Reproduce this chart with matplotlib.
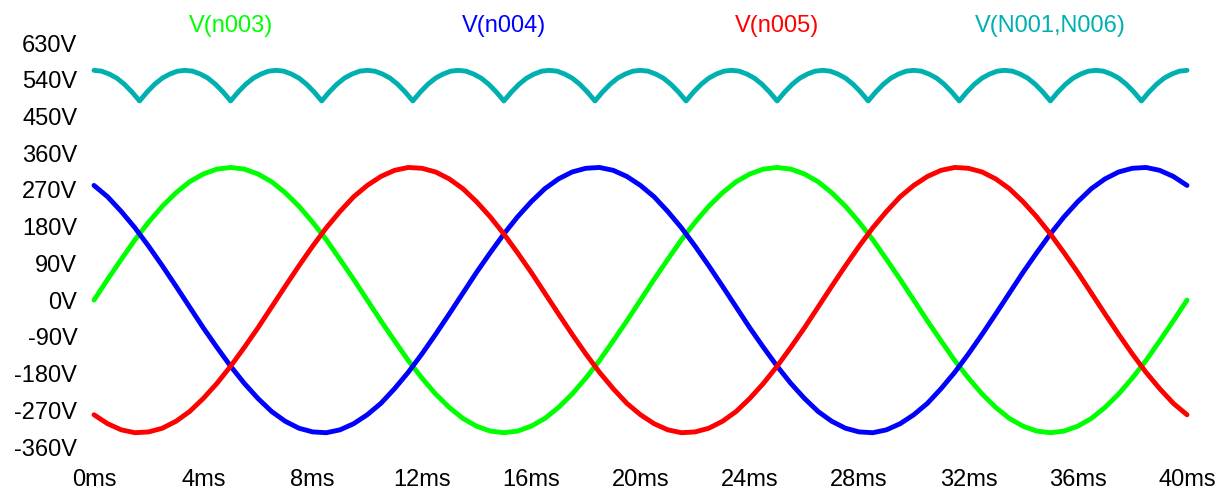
import numpy as np
import matplotlib
matplotlib.use("Agg")
import matplotlib.pyplot as plt

# ---- data (time in ms, voltage in V) ----
t_phase = np.linspace(0, 40, 81)  # 0.5 ms sampling

v_n003 = [0, 51, 100, 148, 191, 230, 263, 290, 309, 321, 325, 321, 309, 290, 263, 230, 191, 148, 100, 51,
          0, -51, -100, -148, -191, -230, -263, -290, -309, -321, -325, -321, -309, -290, -263, -230, -191, -148, -100, -51,
          0, 51, 100, 148, 191, 230, 263, 290, 309, 321, 325, 321, 309, 290, 263, 230, 191, 148, 100, 51,
          0, -51, -100, -148, -191, -230, -263, -290, -309, -321, -325, -321, -309, -290, -263, -230, -191, -148, -100, -51,
          0]

v_n004 = [281, 253, 217, 177, 132, 84, 34, -17, -68, -116, -162, -204, -241, -273, -297, -314, -323, -325, -318, -303,
          -281, -253, -217, -177, -132, -84, -34, 17, 68, 116, 162, 204, 241, 273, 297, 314, 323, 325, 318, 303,
          281, 253, 217, 177, 132, 84, 34, -17, -68, -116, -162, -204, -241, -273, -297, -314, -323, -325, -318, -303,
          -281, -253, -217, -177, -132, -84, -34, 17, 68, 116, 162, 204, 241, 273, 297, 314, 323, 325, 318, 303,
          281]

v_n005 = [-281, -303, -318, -325, -323, -314, -297, -273, -241, -204, -162, -116, -68, -17, 34, 84, 132, 177, 217, 253,
          281, 303, 318, 325, 323, 314, 297, 273, 241, 204, 162, 116, 68, 17, -34, -84, -132, -177, -217, -253,
          -281, -303, -318, -325, -323, -314, -297, -273, -241, -204, -162, -116, -68, -17, 34, 84, 132, 177, 217, 253,
          281, 303, 318, 325, 323, 314, 297, 273, 241, 204, 162, 116, 68, 17, -34, -84, -132, -177, -217, -253,
          -281]

t_rect = np.linspace(0, 40, 145)  # 5/18 ms sampling
v_n001_n006 = [563, 561, 554, 544, 529, 510, 488, 510, 529, 544, 554, 561,
               563, 561, 554, 544, 529, 510, 488, 510, 529, 544, 554, 561,
               563, 561, 554, 544, 529, 510, 488, 510, 529, 544, 554, 561,
               563, 561, 554, 544, 529, 510, 488, 510, 529, 544, 554, 561,
               563, 561, 554, 544, 529, 510, 488, 510, 529, 544, 554, 561,
               563, 561, 554, 544, 529, 510, 488, 510, 529, 544, 554, 561,
               563, 561, 554, 544, 529, 510, 488, 510, 529, 544, 554, 561,
               563, 561, 554, 544, 529, 510, 488, 510, 529, 544, 554, 561,
               563, 561, 554, 544, 529, 510, 488, 510, 529, 544, 554, 561,
               563, 561, 554, 544, 529, 510, 488, 510, 529, 544, 554, 561,
               563, 561, 554, 544, 529, 510, 488, 510, 529, 544, 554, 561,
               563, 561, 554, 544, 529, 510, 488, 510, 529, 544, 554, 561,
               563]

trace_names = ["V(n003)", "V(n004)", "V(n005)", "V(N001,N006)"]
y_ticks = [630, 540, 450, 360, 270, 180, 90, 0, -90, -180, -270, -360]
x_ticks = [0, 4, 8, 12, 16, 20, 24, 28, 32, 36, 40]

# ---- styling ----
plt.rcParams['font.family'] = ['Liberation Sans', 'DejaVu Sans']
colors = ['#00FF00', '#0000FF', '#FF0000', '#00B0B0']

fig = plt.figure(figsize=(12.32, 4.90), dpi=100)
ax = fig.add_axes([94 / 1232, 1 - 447 / 490, (1187 - 94) / 1232, (447 - 43) / 490])

series = [(t_phase, v_n003), (t_phase, v_n004), (t_phase, v_n005), (t_rect, v_n001_n006)]
for (tt, vv), c in zip(series, colors):
    ax.plot(tt, vv, color=c, lw=3.5, solid_capstyle='round', solid_joinstyle='round', clip_on=False)

ax.set_xlim(0, 40)
ax.set_ylim(-360, 630)
ax.set_yticks(y_ticks)
ax.set_yticklabels([f"{v}V" for v in y_ticks])
ax.set_xticks(x_ticks)
ax.set_xticklabels([f"{v}ms" for v in x_ticks])
ax.tick_params(axis='both', length=0, labelsize=17)
ax.tick_params(axis='y', pad=12)
ax.tick_params(axis='x', pad=16)
for s in ax.spines.values():
    s.set_visible(False)

for i, (name, c) in enumerate(zip(trace_names, colors)):
    ax.text((2 * i + 1) / 8, 1 + 17 / 404, name, color=c, fontsize=17,
            ha='center', va='center', transform=ax.transAxes)

fig.savefig("out.png", dpi=100)
